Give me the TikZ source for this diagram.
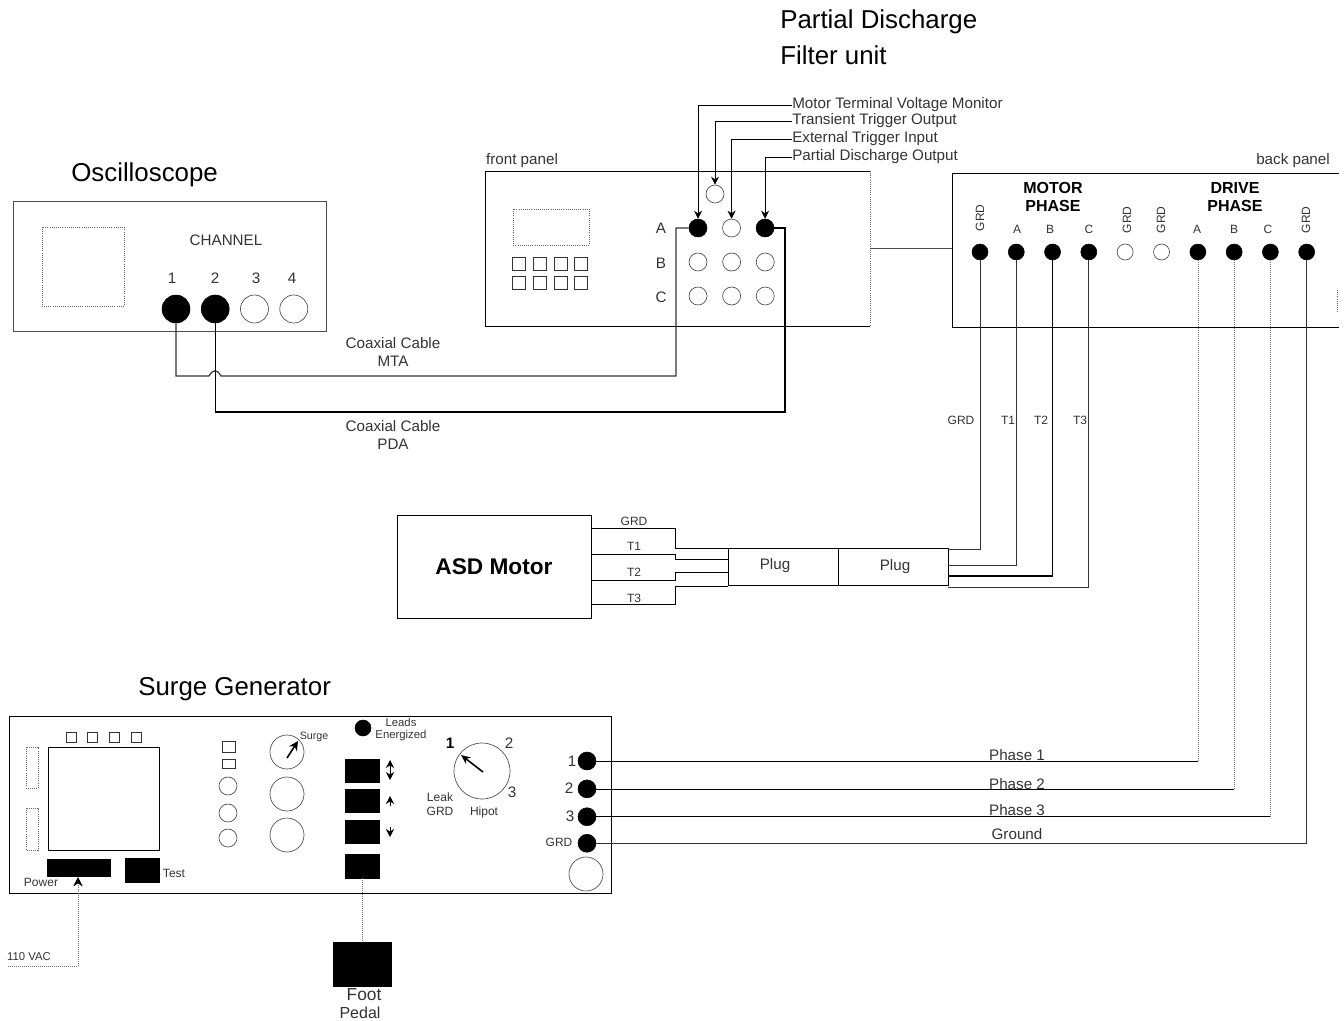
\documentclass[tikz,border=0pt]{standalone}
\usepackage{fontspec}
\setmainfont{Liberation Sans}
\usetikzlibrary{arrows.meta,positioning}

\begin{document}
\begin{tikzpicture}[
    x=0.75pt, y=-0.75pt,
    node distance=12pt and 12pt,
    title/.style={anchor=west, font=\fontsize{19.4}{22}\selectfont, inner sep=0pt, align=left},
    note/.style={font=\fontsize{11.4}{13.5}\selectfont, inner sep=0pt, align=center, text=black!80},
    tiny/.style={font=\fontsize{9}{10.5}\selectfont, inner sep=0pt, align=center, text=black!80},
    boldnote/.style={font=\bfseries\fontsize{12}{13}\selectfont, inner sep=0pt, align=center},
    panel/.style={draw, line width=0.6pt},
    frame/.style={draw=black!60, line width=0.6pt, densely dotted},
    jackon/.style={circle, draw, fill=black, minimum size=13.5pt, inner sep=0pt},
    jackoff/.style={circle, draw=black!70, minimum size=13.5pt, inner sep=0pt, line width=0.5pt},
    bigon/.style={jackon, minimum size=21pt},
    bigoff/.style={jackoff, minimum size=21pt},
    dial/.style={jackoff, minimum size=25.5pt},
    btn/.style={rectangle, draw=black!80, minimum width=9.75pt, minimum height=9.75pt, inner sep=0pt, line width=0.5pt},
    key/.style={rectangle, draw, fill=black, minimum width=25.5pt, minimum height=17.5pt, inner sep=0pt},
    box/.style={rectangle, draw, minimum height=28pt, inner sep=0pt, line width=0.5pt},
    wire/.style={line width=0.5pt},
    cable/.style={line width=0.9pt},
    faint/.style={black!55, line width=0.5pt, densely dotted},
    arrow/.style={-{Stealth[length=6pt,width=6pt]}, line width=0.5pt}
  ]
  \useasboundingbox (0,0) rectangle (1344,1020);

  % oscilloscope
  \node[title] (osctitle) at (71,175) {Oscilloscope};
  \draw[panel, black!70] (13,201) rectangle (326,331);
  \draw[frame] (42,227) rectangle (124,306);
  \node[note] (chan) at (226,240) {CHANNEL};
  \node[bigon] (ch1) at (176,309) {};
  \node[bigon, right=8pt of ch1] (ch2) {};
  \node[bigoff, right=8pt of ch2] (ch3) {};
  \node[bigoff, right=8pt of ch3] (ch4) {};
  \node[note] at (172,278) {1};
  \node[note] at (215,278) {2};
  \node[note] at (256,278) {3};
  \node[note] at (292,278) {4};

  % filter unit, front
  \node[title] (pdtitle) at (780,37) {Partial Discharge\\[5pt]Filter unit};
  \node[note] (front) at (522,161) {front panel};
  \draw[panel] (870,171) -- (485,171) -- (485,326) -- (870,326);
  \draw[frame] (870,171) -- (870,326);
  \draw[frame] (513,209) rectangle (589,245);
  \node[btn] (b1) at (519,264) {};
  \node[btn, right=5.25pt of b1] (b2) {};
  \node[btn, right=5.25pt of b2] (b3) {};
  \node[btn, right=5.25pt of b3] (b4) {};
  \node[btn] (b5) at (519,283) {};
  \node[btn, right=5.25pt of b5] (b6) {};
  \node[btn, right=5.25pt of b6] (b7) {};
  \node[btn, right=5.25pt of b7] (b8) {};
  \node[note] at (661,228) {A};
  \node[note] at (661,263) {B};
  \node[note] at (661,297) {C};
  \node[jackoff] (fmon) at (715,194) {};
  \node[jackon] (fa1) at (698,228) {};
  \node[jackoff, right=11.2pt of fa1] (fa2) {};
  \node[jackon, right=11.2pt of fa2] (fa3) {};
  \node[jackoff] (fb1) at (698,262) {};
  \node[jackoff, right=11.2pt of fb1] (fb2) {};
  \node[jackoff, right=11.2pt of fb2] (fb3) {};
  \node[jackoff] (fc1) at (698,296) {};
  \node[jackoff, right=11.2pt of fc1] (fc2) {};
  \node[jackoff, right=11.2pt of fc2] (fc3) {};

  % output labels
  \node[note, anchor=west] (lmon) at (792,105) {Motor Terminal Voltage Monitor};
  \node[note, anchor=west] (ltrans) at (792,121) {Transient Trigger Output};
  \node[note, anchor=west] (lext) at (792,139) {External Trigger Input};
  \node[note, anchor=west] (lpd) at (792,157) {Partial Discharge Output};
  \draw[arrow] (lmon.west) -| (fa1.north);
  \draw[arrow] (ltrans.west) -| (fmon.north);
  \draw[arrow] (lext.west) -| (fa2.north);
  \draw[arrow] (lpd.west) -| (fa3.north);

  % filter unit, back
  \node[note] (back) at (1293,161) {back panel};
  \draw[panel] (1339,173) -- (952,173) -- (952,327) -- (1339,327);
  \draw[frame] (1337,290) -- (1337,312);
  \coordinate (fpr) at (870,248);
  \coordinate (bpl) at (952,248);
  \draw[wire, black!70] (fpr) -- (bpl);
  \node[boldnote] at (1053,197) {MOTOR\\PHASE};
  \node[boldnote] at (1235,197) {DRIVE\\PHASE};
  \node[jackon, minimum size=12pt] (mg) at (980,252) {};
  \node[jackon, minimum size=12pt, right=14.8pt of mg] (ma) {};
  \node[jackon, minimum size=12pt, right=14.8pt of ma] (mb) {};
  \node[jackon, minimum size=12pt, right=14.8pt of mb] (mc) {};
  \node[jackoff, minimum size=12pt, right=14.8pt of mc] (g1) {};
  \node[jackoff, minimum size=12pt, right=14.8pt of g1] (g2) {};
  \node[jackon, minimum size=12pt, right=14.8pt of g2] (da) {};
  \node[jackon, minimum size=12pt, right=14.8pt of da] (db) {};
  \node[jackon, minimum size=12pt, right=14.8pt of db] (dc) {};
  \node[jackon, minimum size=12pt, right=14.8pt of dc] (dg) {};
  \node[tiny, rotate=90] at (980,218) {GRD};
  \node[tiny] at (1017,229) {A};
  \node[tiny] at (1050,229) {B};
  \node[tiny] at (1089,229) {C};
  \node[tiny, rotate=90] at (1127,220) {GRD};
  \node[tiny, rotate=90] at (1161,220) {GRD};
  \node[tiny] at (1197,229) {A};
  \node[tiny] at (1234,229) {B};
  \node[tiny] at (1268,229) {C};
  \node[tiny, rotate=90] at (1306,220) {GRD};

  % coax runs
  \coordinate (hopl) at (209,376);
  \coordinate (hopr) at (221,376);
  \coordinate (cora) at (676,228);
  \coordinate (corb) at (785,228);
  \draw[cable, black!80] (ch1.south) |- (hopl) .. controls (213,369) and (217,369) .. (hopr) -| (cora) -- (fa1.west);
  \draw[cable] (ch2.south) |- (785,412) -- (corb) -- (fa3.east);
  \node[note] at (393,352) {Coaxial Cable\\MTA};
  \node[note] at (393,435) {Coaxial Cable\\PDA};

  % motor and plugs
  \node[rectangle, draw, line width=0.5pt, minimum width=145.5pt, minimum height=77pt, font=\bfseries\fontsize{17}{20}\selectfont] (motor) at (494,566.5) {ASD Motor};
  \node[box, minimum width=82.5pt] (plugl) at (783,567) {};
  \node[box, minimum width=82.5pt, right=0pt of plugl] (plugr) {};
  \node[note] at (775,566) {Plug};
  \node[note] at (895,567) {Plug};
  \coordinate (mo1) at (591,528);
  \coordinate (mo2) at (591,554);
  \coordinate (mo3) at (591,580);
  \coordinate (mo4) at (591,604);
  \coordinate (pl1) at (728,548);
  \coordinate (pl2) at (728,559);
  \coordinate (pl3) at (728,572);
  \coordinate (pl4) at (728,586);
  \draw[wire] (mo1) -- (675,528) -- (675,548) -- (pl1);
  \draw[wire] (mo2) -- (675,554) -- (675,559) -- (pl2);
  \draw[wire] (mo3) -- (675,580) -- (675,572) -- (pl3);
  \draw[wire] (mo4) -- (675,604) -- (675,586) -- (pl4);
  \node[tiny] at (634,521) {GRD};
  \node[tiny] at (634,546) {T1};
  \node[tiny] at (634,572) {T2};
  \node[tiny] at (634,598) {T3};
  \coordinate (pr1) at (948,549);
  \coordinate (pr2) at (948,565);
  \coordinate (pr3) at (948,576);
  \coordinate (pr4) at (948,587);
  \draw[wire, black!80] (mg.south) |- (pr1);
  \draw[wire, black!80] (ma.south) |- (pr2);
  \draw[cable] (mb.south) |- (pr3);
  \draw[wire, black!80] (mc.south) |- (pr4);
  \node[tiny, fill=white] at (961,420) {GRD};
  \node[tiny, fill=white] at (1008,420) {T1};
  \node[tiny, fill=white] at (1041,420) {T2};
  \node[tiny, fill=white] at (1080,420) {T3};

  % surge generator
  \node[title] (surgetitle) at (138,689) {Surge Generator};
  \draw[panel] (9,716) rectangle (611,893);
  \node[btn, minimum size=7.5pt] (t1) at (71,737) {};
  \node[btn, minimum size=7.5pt, right=8.25pt of t1] (t2) {};
  \node[btn, minimum size=7.5pt, right=8.25pt of t2] (t3) {};
  \node[btn, minimum size=7.5pt, right=8.25pt of t3] (t4) {};
  \draw[panel] (48,747) rectangle (159,850);
  \draw[frame] (26,747) rectangle (38,788);
  \draw[frame] (26,808) rectangle (38,850);
  \node[btn, minimum height=8pt] at (229,747) {};
  \node[btn, minimum height=7pt] at (229,764) {};
  \node[jackoff] (s1) at (228,786) {};
  \node[jackoff] (s2) at (228,813) {};
  \node[jackoff] (s3) at (228,838) {};
  \node[dial] (surgea) at (287,752) {};
  \node[dial] (surgeb) at (287,794) {};
  \node[dial] (surgec) at (287,835) {};
  \draw[-{Stealth[length=7pt,width=7pt]}, line width=1.2pt] (surgea.center) ++(0,6) -- ++(11,-17);
  \node[tiny, font=\fontsize{8}{9}\selectfont] at (314,737) {Surge};
  \node[key, minimum width=47pt, minimum height=13pt] (power) at (78.5,867.5) {};
  \node[key, minimum height=18pt] (test) at (142,870.5) {};
  \node[tiny] at (174,873) {Test};
  \node[tiny] at (41,882) {Power};
  \node[tiny, font=\fontsize{8.5}{10}\selectfont] (vac) at (29,957) {110 VAC};
  \coordinate (vacl) at (8,966);
  \coordinate (powin) at (78,877);
  \draw[faint, -{Stealth[length=7pt,width=7pt,black]}] (vacl) -- (78,966) -- (powin);

  % keys and pedal
  \node[circle, fill=black, draw, minimum size=12pt, inner sep=0pt] (leads) at (363,728) {};
  \node[tiny, font=\fontsize{8.5}{9}\selectfont] at (401,730) {Leads\\Energized};
  \node[key] (k1) at (362,770.5) {};
  \node[key, below=5pt of k1] (k2) {};
  \node[key, below=5pt of k2] (k3) {};
  \node[key, below=8pt of k3] (k4) {};
  \coordinate (k1u) at (390,760);
  \coordinate (k1d) at (390,780);
  \coordinate (k1m) at (390,770);
  \draw[arrow] (k1m) -- (k1u);
  \draw[arrow] (k1m) -- (k1d);
  \draw[arrow] (390,806) -- (390,796);
  \draw[arrow] (390,827) -- (390,837);
  \node[rectangle, fill=black, draw, minimum width=43.5pt, minimum height=33pt] (pedal) at (362,964) {};
  \draw[faint] (k4.south) -- (pedal.north);
  \node[note, font=\fontsize{13}{15}\selectfont] at (364,995) {Foot};
  \node[note, font=\fontsize{12}{14}\selectfont] at (360,1013) {Pedal};

  % selector
  \node[circle, draw=black!70, minimum size=42pt, inner sep=0pt, line width=0.5pt] (sel) at (482,771) {};
  \draw[-{Stealth[length=7pt,width=6pt]}, line width=1.2pt] (483,772) -- (461,755);
  \node[note, font=\bfseries\fontsize{11.4}{13}\selectfont, text=black] at (450,743) {1};
  \node[note] at (509,743) {2};
  \node[note] at (512,792) {3};
  \node[tiny] at (440,804) {Leak\\GRD};
  \node[tiny] at (484,812) {Hipot};

  % output jacks
  \node[jackon] (o1) at (587,761) {};
  \node[jackon, below=7pt of o1] (o2) {};
  \node[jackon, below=7pt of o2] (o3) {};
  \node[jackon, below=6pt of o3] (o4) {};
  \node[dial] (o5) at (586,874) {};
  \node[note] at (572,761) {1};
  \node[note] at (569,788) {2};
  \node[note] at (570,816) {3};
  \node[tiny] at (559,842) {GRD};

  % phase runs
  \coordinate (p1) at (da |- o1);
  \coordinate (p2) at (db |- o2);
  \coordinate (p3) at (dc |- o3);
  \draw[wire] (o1.east) -- (p1);
  \draw[faint] (p1) -- (da.south);
  \draw[wire] (o2.east) -- (p2);
  \draw[faint] (p2) -- (db.south);
  \draw[wire] (o3.east) -- (p3);
  \draw[faint] (p3) -- (dc.south);
  \draw[cable, black!80] (o4.east) -| (dg.south);
  \node[note] at (1017,755) {Phase 1};
  \node[note] at (1017,784) {Phase 2};
  \node[note] at (1017,810) {Phase 3};
  \node[note] at (1017,834) {Ground};
\end{tikzpicture}
\end{document}
